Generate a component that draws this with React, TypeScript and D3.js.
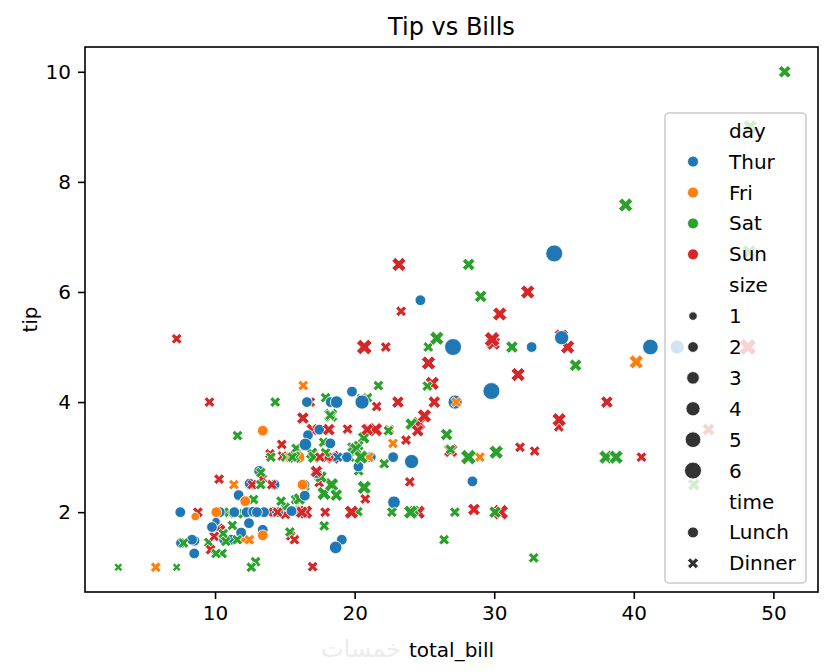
import * as d3 from 'd3';
import { useEffect, useRef } from 'react';

// seaborn "tips" rows, in plotting order
const totalBill = [
  16.99, 10.34, 21.01, 23.68, 24.59, 25.29, 8.77, 26.88, 15.04, 14.78,
  10.27, 35.26, 15.42, 18.43, 14.83, 21.58, 10.33, 16.29, 16.97, 20.65,
  17.92, 20.29, 15.77, 39.42, 19.82, 17.81, 13.37, 12.69, 21.7, 19.65,
  9.55, 18.35, 15.06, 20.69, 17.78, 24.06, 16.31, 16.93, 18.69, 31.27,
  16.04, 17.46, 13.94, 9.68, 30.4, 18.29, 22.23, 32.4, 28.55, 18.04,
  12.54, 10.29, 34.81, 9.94, 25.56, 19.49, 38.01, 26.41, 11.24, 48.27,
  20.29, 13.81, 11.02, 18.29, 17.59, 20.08, 16.45, 3.07, 20.23, 15.01,
  12.02, 17.07, 26.86, 25.28, 14.73, 10.51, 17.92, 27.2, 22.76, 17.29,
  19.44, 16.66, 10.07, 32.68, 15.98, 34.83, 13.03, 18.28, 24.71, 21.16,
  28.97, 22.49, 5.75, 16.32, 22.75, 40.17, 27.28, 12.03, 21.01, 12.46,
  11.35, 15.38, 44.3, 22.42, 20.92, 15.36, 20.49, 25.21, 18.24, 14.31,
  14.0, 7.25, 38.07, 23.95, 25.71, 17.31, 29.93, 10.65, 12.43, 24.08,
  11.69, 13.42, 14.26, 15.95, 12.48, 29.8, 8.52, 14.52, 11.38, 22.82,
  19.08, 20.27, 11.17, 12.26, 18.26, 8.51, 10.33, 14.15, 16.0, 13.16,
  17.47, 34.3, 41.19, 27.05, 16.43, 8.35, 18.64, 11.87, 9.78, 7.51,
  14.07, 13.13, 17.26, 24.55, 19.77, 29.85, 48.17, 25.0, 13.39, 16.49,
  21.5, 12.66, 16.21, 13.81, 17.51, 24.52, 20.76, 31.71, 10.59, 10.63,
  50.81, 15.81, 7.25, 31.85, 16.82, 32.9, 17.89, 14.48, 9.6, 34.63,
  34.65, 23.33, 45.35, 23.17, 40.55, 20.69, 20.9, 30.46, 18.15, 23.1,
  15.69, 19.81, 28.44, 15.48, 16.58, 7.56, 10.34, 43.11, 13.0, 13.51,
  18.71, 12.74, 13.0, 16.4, 20.53, 16.47, 26.59, 38.73, 24.27, 12.76,
  30.06, 25.89, 48.33, 13.27, 28.17, 12.9, 28.15, 11.59, 7.74, 30.14,
  12.16, 13.42, 8.58, 15.98, 13.42, 16.27, 10.09, 20.45, 13.28, 22.12,
  24.01, 15.69, 11.61, 10.77, 15.53, 10.07, 12.6, 32.83, 35.83, 29.03,
  27.18, 22.67, 17.82, 18.78,
];

const tip = [
  1.01, 1.66, 3.5, 3.31, 3.61, 4.71, 2.0, 3.12, 1.96, 3.23,
  1.71, 5.0, 1.57, 3.0, 3.02, 3.92, 1.67, 3.71, 3.5, 3.35,
  4.08, 2.75, 2.23, 7.58, 3.18, 2.34, 2.0, 2.0, 4.3, 3.0,
  1.45, 2.5, 3.0, 2.45, 3.27, 3.6, 2.0, 3.07, 2.31, 5.0,
  2.24, 2.54, 3.06, 1.32, 5.6, 3.0, 5.0, 6.0, 2.05, 3.0,
  2.5, 2.6, 5.2, 1.56, 4.34, 3.51, 3.0, 1.5, 1.76, 6.73,
  3.21, 2.0, 1.98, 3.76, 2.64, 3.15, 2.47, 1.0, 2.01, 2.09,
  1.97, 3.0, 3.14, 5.0, 2.2, 1.25, 3.08, 4.0, 3.0, 2.71,
  3.0, 3.4, 1.83, 5.0, 2.03, 5.17, 2.0, 4.0, 5.85, 3.0,
  3.0, 3.5, 1.0, 4.3, 3.25, 4.73, 4.0, 1.5, 3.0, 1.5,
  2.5, 3.0, 2.5, 3.48, 4.08, 1.64, 4.06, 4.29, 3.76, 4.0,
  3.0, 1.0, 4.0, 2.55, 4.0, 3.5, 5.07, 1.5, 1.8, 2.92,
  2.31, 1.68, 2.5, 2.0, 2.52, 4.2, 1.48, 2.0, 2.0, 2.18,
  1.5, 2.83, 1.5, 2.0, 3.25, 1.25, 2.0, 2.0, 2.0, 2.75,
  3.5, 6.7, 5.0, 5.0, 2.3, 1.5, 1.36, 1.63, 1.73, 2.0,
  2.5, 2.0, 2.74, 2.0, 2.0, 5.14, 5.0, 3.75, 2.61, 2.0,
  3.5, 2.5, 2.0, 2.0, 3.0, 3.48, 2.24, 4.5, 1.61, 2.0,
  10.0, 3.16, 5.15, 3.18, 4.0, 3.11, 2.0, 2.0, 4.0, 3.55,
  3.68, 5.65, 3.5, 6.5, 3.0, 5.0, 3.5, 2.0, 3.5, 4.0,
  1.5, 4.19, 2.56, 2.02, 4.0, 1.44, 2.0, 5.0, 2.0, 2.0,
  4.0, 2.01, 2.0, 2.5, 4.0, 3.23, 3.41, 3.0, 2.03, 2.23,
  2.0, 5.16, 9.0, 2.5, 6.5, 1.1, 3.0, 1.5, 1.44, 3.09,
  2.2, 3.48, 1.92, 3.0, 1.58, 2.5, 2.0, 3.0, 2.72, 2.88,
  2.0, 3.0, 3.39, 1.47, 3.0, 1.25, 1.0, 1.17, 4.67, 5.92,
  2.0, 2.0, 1.75, 3.0,
];

const day = [
  'Sun', 'Sun', 'Sun', 'Sun', 'Sun', 'Sun', 'Sun', 'Sun', 'Sun', 'Sun',
  'Sun', 'Sun', 'Sun', 'Sun', 'Sun', 'Sun', 'Sun', 'Sun', 'Sun', 'Sat',
  'Sat', 'Sat', 'Sat', 'Sat', 'Sat', 'Sat', 'Sat', 'Sat', 'Sat', 'Sat',
  'Sat', 'Sat', 'Sat', 'Sat', 'Sat', 'Sat', 'Sat', 'Sat', 'Sat', 'Sat',
  'Sat', 'Sun', 'Sun', 'Sun', 'Sun', 'Sun', 'Sun', 'Sun', 'Sun', 'Sun',
  'Sun', 'Sun', 'Sun', 'Sun', 'Sun', 'Sun', 'Sat', 'Sat', 'Sat', 'Sat',
  'Sat', 'Sat', 'Sat', 'Sat', 'Sat', 'Sat', 'Sat', 'Sat', 'Sat', 'Sat',
  'Sat', 'Sat', 'Sat', 'Sat', 'Sat', 'Sat', 'Sat', 'Thur', 'Thur', 'Thur',
  'Thur', 'Thur', 'Thur', 'Thur', 'Thur', 'Thur', 'Thur', 'Thur', 'Thur', 'Thur',
  'Fri', 'Fri', 'Fri', 'Fri', 'Fri', 'Fri', 'Fri', 'Fri', 'Fri', 'Fri',
  'Fri', 'Fri', 'Sat', 'Sat', 'Sat', 'Sat', 'Sat', 'Sat', 'Sat', 'Sat',
  'Sat', 'Sat', 'Sun', 'Sun', 'Sun', 'Sun', 'Sun', 'Thur', 'Thur', 'Thur',
  'Thur', 'Thur', 'Thur', 'Thur', 'Thur', 'Thur', 'Thur', 'Thur', 'Thur', 'Thur',
  'Thur', 'Thur', 'Thur', 'Thur', 'Thur', 'Thur', 'Thur', 'Thur', 'Thur', 'Thur',
  'Thur', 'Thur', 'Thur', 'Thur', 'Thur', 'Thur', 'Thur', 'Thur', 'Thur', 'Thur',
  'Sun', 'Sun', 'Sun', 'Sun', 'Sun', 'Sun', 'Sun', 'Sun', 'Sun', 'Sun',
  'Sun', 'Sun', 'Sun', 'Sun', 'Sun', 'Sun', 'Sun', 'Sun', 'Sat', 'Sat',
  'Sat', 'Sat', 'Sun', 'Sun', 'Sun', 'Sun', 'Sun', 'Sun', 'Sun', 'Sun',
  'Sun', 'Sun', 'Sun', 'Sun', 'Sun', 'Sun', 'Sun', 'Sun', 'Sun', 'Sun',
  'Sun', 'Thur', 'Thur', 'Thur', 'Thur', 'Thur', 'Thur', 'Thur', 'Thur', 'Thur',
  'Thur', 'Thur', 'Thur', 'Thur', 'Thur', 'Thur', 'Sat', 'Sat', 'Sat', 'Sat',
  'Sat', 'Sat', 'Sat', 'Sat', 'Sat', 'Sat', 'Sat', 'Sat', 'Sat', 'Sat',
  'Fri', 'Fri', 'Fri', 'Fri', 'Fri', 'Fri', 'Fri', 'Sat', 'Sat', 'Sat',
  'Sat', 'Sat', 'Sat', 'Sat', 'Sat', 'Sat', 'Sat', 'Sat', 'Sat', 'Sat',
  'Sat', 'Sat', 'Sat', 'Thur',
];

const time = [
  'Dinner', 'Dinner', 'Dinner', 'Dinner', 'Dinner', 'Dinner', 'Dinner', 'Dinner', 'Dinner', 'Dinner',
  'Dinner', 'Dinner', 'Dinner', 'Dinner', 'Dinner', 'Dinner', 'Dinner', 'Dinner', 'Dinner', 'Dinner',
  'Dinner', 'Dinner', 'Dinner', 'Dinner', 'Dinner', 'Dinner', 'Dinner', 'Dinner', 'Dinner', 'Dinner',
  'Dinner', 'Dinner', 'Dinner', 'Dinner', 'Dinner', 'Dinner', 'Dinner', 'Dinner', 'Dinner', 'Dinner',
  'Dinner', 'Dinner', 'Dinner', 'Dinner', 'Dinner', 'Dinner', 'Dinner', 'Dinner', 'Dinner', 'Dinner',
  'Dinner', 'Dinner', 'Dinner', 'Dinner', 'Dinner', 'Dinner', 'Dinner', 'Dinner', 'Dinner', 'Dinner',
  'Dinner', 'Dinner', 'Dinner', 'Dinner', 'Dinner', 'Dinner', 'Dinner', 'Dinner', 'Dinner', 'Dinner',
  'Dinner', 'Dinner', 'Dinner', 'Dinner', 'Dinner', 'Dinner', 'Dinner', 'Lunch', 'Lunch', 'Lunch',
  'Lunch', 'Lunch', 'Lunch', 'Lunch', 'Lunch', 'Lunch', 'Lunch', 'Lunch', 'Lunch', 'Lunch',
  'Dinner', 'Dinner', 'Dinner', 'Dinner', 'Dinner', 'Dinner', 'Dinner', 'Dinner', 'Dinner', 'Dinner',
  'Dinner', 'Dinner', 'Dinner', 'Dinner', 'Dinner', 'Dinner', 'Dinner', 'Dinner', 'Dinner', 'Dinner',
  'Dinner', 'Dinner', 'Dinner', 'Dinner', 'Dinner', 'Dinner', 'Dinner', 'Lunch', 'Lunch', 'Lunch',
  'Lunch', 'Lunch', 'Lunch', 'Lunch', 'Lunch', 'Lunch', 'Lunch', 'Lunch', 'Lunch', 'Lunch',
  'Lunch', 'Lunch', 'Lunch', 'Lunch', 'Lunch', 'Lunch', 'Lunch', 'Lunch', 'Lunch', 'Lunch',
  'Lunch', 'Lunch', 'Lunch', 'Lunch', 'Lunch', 'Lunch', 'Lunch', 'Lunch', 'Lunch', 'Lunch',
  'Dinner', 'Dinner', 'Dinner', 'Dinner', 'Dinner', 'Dinner', 'Dinner', 'Dinner', 'Dinner', 'Dinner',
  'Dinner', 'Dinner', 'Dinner', 'Dinner', 'Dinner', 'Dinner', 'Dinner', 'Dinner', 'Dinner', 'Dinner',
  'Dinner', 'Dinner', 'Dinner', 'Dinner', 'Dinner', 'Dinner', 'Dinner', 'Dinner', 'Dinner', 'Dinner',
  'Dinner', 'Dinner', 'Dinner', 'Dinner', 'Dinner', 'Dinner', 'Dinner', 'Dinner', 'Dinner', 'Dinner',
  'Dinner', 'Lunch', 'Lunch', 'Lunch', 'Lunch', 'Lunch', 'Lunch', 'Lunch', 'Lunch', 'Lunch',
  'Lunch', 'Lunch', 'Lunch', 'Lunch', 'Lunch', 'Lunch', 'Dinner', 'Dinner', 'Dinner', 'Dinner',
  'Dinner', 'Dinner', 'Dinner', 'Dinner', 'Dinner', 'Dinner', 'Dinner', 'Dinner', 'Dinner', 'Dinner',
  'Lunch', 'Lunch', 'Lunch', 'Lunch', 'Lunch', 'Lunch', 'Lunch', 'Dinner', 'Dinner', 'Dinner',
  'Dinner', 'Dinner', 'Dinner', 'Dinner', 'Dinner', 'Dinner', 'Dinner', 'Dinner', 'Dinner', 'Dinner',
  'Dinner', 'Dinner', 'Dinner', 'Dinner',
];

const partySize = [
  2, 3, 3, 2, 4, 4, 2, 4, 2, 2,
  2, 4, 2, 4, 2, 2, 3, 3, 3, 3,
  2, 2, 2, 4, 2, 4, 2, 2, 2, 2,
  2, 4, 2, 4, 2, 3, 3, 3, 3, 3,
  3, 2, 2, 2, 4, 2, 2, 4, 3, 2,
  2, 2, 4, 2, 4, 2, 4, 2, 2, 4,
  2, 2, 2, 4, 3, 3, 2, 1, 2, 2,
  2, 3, 2, 2, 2, 2, 2, 4, 2, 2,
  2, 2, 1, 2, 2, 4, 2, 2, 2, 2,
  2, 2, 2, 2, 2, 4, 2, 2, 2, 2,
  2, 2, 3, 2, 2, 2, 2, 2, 2, 2,
  2, 1, 3, 2, 3, 2, 4, 2, 2, 4,
  2, 2, 2, 2, 2, 6, 2, 2, 2, 3,
  2, 2, 2, 2, 2, 2, 2, 2, 2, 2,
  2, 6, 5, 6, 2, 2, 3, 2, 2, 2,
  2, 2, 3, 4, 4, 5, 6, 4, 2, 4,
  4, 2, 3, 2, 2, 3, 2, 4, 2, 2,
  3, 2, 2, 2, 2, 2, 2, 2, 2, 2,
  4, 2, 3, 4, 2, 5, 3, 5, 3, 3,
  2, 2, 2, 2, 2, 2, 2, 4, 2, 2,
  3, 2, 2, 2, 4, 3, 3, 4, 2, 2,
  3, 4, 4, 2, 3, 2, 5, 2, 2, 4,
  2, 2, 1, 3, 2, 2, 2, 4, 2, 2,
  4, 3, 2, 2, 2, 2, 2, 2, 3, 3,
  2, 2, 2, 2,
];

const dayOrder = ['Thur', 'Fri', 'Sat', 'Sun'];
const dayColors = ['#1f77b4', '#ff7f0e', '#2ca02c', '#d62728'];
const sizeLevels = [1, 2, 3, 4, 5, 6];
const timeOrder = ['Lunch', 'Dinner'];
const xTicks = [10, 20, 30, 40, 50];
const yTicks = [2, 4, 6, 8, 10];

const W = 830;
const H = 672;
const FONT = '"DejaVu Sans", Verdana, sans-serif';
const PT = 2; // px per point

// seaborn default size range: 18..72 pt^2 of area
const areaScale = d3.scaleLinear().domain([1, 6]).range([18, 72]);
const diamPx = (s: number) => Math.sqrt(areaScale(s)) * PT;

// matplotlib filled "X" marker, unit box scaled to diameter d
const xVerts = [
  [-1, -2], [0, -1], [1, -2], [2, -1], [1, 0], [2, 1],
  [1, 2], [0, 1], [-1, 2], [-2, 1], [-1, 0], [-2, -1],
];
const markerPath = (kind: string, d: number) => {
  if (kind === 'Lunch') {
    return d3.symbol(d3.symbolCircle, (Math.PI * d * d) / 4)() || '';
  }
  const k = d / 4;
  return 'M' + xVerts.map(([a, b]) => `${a * k},${b * k}`).join('L') + 'Z';
};

const App = () => {
  const svgRef = useRef<SVGSVGElement>(null);

  useEffect(() => {
    if (!svgRef.current) return;
    const svg = d3.select(svgRef.current);
    svg.selectAll('*').remove();

    const left = 85;
    const right = 818;
    const top = 47;
    const bottom = 592;

    const [x0, x1] = d3.extent(totalBill) as [number, number];
    const [y0, y1] = d3.extent(tip) as [number, number];
    const xPad = (x1 - x0) * 0.05;
    const yPad = (y1 - y0) * 0.05;
    const x = d3.scaleLinear().domain([x0 - xPad, x1 + xPad]).range([left, right]);
    const y = d3.scaleLinear().domain([y0 - yPad, y1 + yPad]).range([bottom, top]);
    const color = d3.scaleOrdinal<string, string>().domain(dayOrder).range(dayColors);

    svg.append('rect').attr('width', W).attr('height', H).attr('fill', '#fff');

    // points, in data order
    const pts = svg.append('g');
    totalBill.forEach((b, i) => {
      pts
        .append('path')
        .attr('transform', `translate(${x(b)},${y(tip[i])})`)
        .attr('d', markerPath(time[i], diamPx(partySize[i])))
        .attr('fill', color(day[i]))
        .attr('stroke', '#fff')
        .attr('stroke-width', 0.86);
    });

    // spines
    svg
      .append('rect')
      .attr('x', left)
      .attr('y', top)
      .attr('width', right - left)
      .attr('height', bottom - top)
      .attr('fill', 'none')
      .attr('stroke', '#000')
      .attr('stroke-width', 1.6);

    // x axis
    const xa = svg
      .append('g')
      .attr('transform', `translate(0,${bottom})`)
      .call(d3.axisBottom(x).tickValues(xTicks).tickSize(7).tickPadding(7).tickFormat(d3.format('d')));
    xa.select('.domain').remove();
    xa.selectAll('.tick line').attr('stroke', '#000').attr('stroke-width', 1.6);
    xa.selectAll('.tick text')
      .attr('fill', '#000')
      .attr('font-size', 20)
      .attr('font-family', FONT)
      .attr('dy', '0.71em');

    // y axis
    const ya = svg
      .append('g')
      .attr('transform', `translate(${left},0)`)
      .call(d3.axisLeft(y).tickValues(yTicks).tickSize(7).tickPadding(7).tickFormat(d3.format('d')));
    ya.select('.domain').remove();
    ya.selectAll('.tick line').attr('stroke', '#000').attr('stroke-width', 1.6);
    ya.selectAll('.tick text')
      .attr('fill', '#000')
      .attr('font-size', 20)
      .attr('font-family', FONT);

    // faint watermark left of the x label
    svg
      .append('text')
      .attr('x', 401)
      .attr('y', 657)
      .attr('text-anchor', 'end')
      .attr('font-size', 24)
      .attr('font-family', FONT)
      .attr('fill', '#ececec')
      .text('خمسات');

    // labels
    svg
      .append('text')
      .attr('x', (left + right) / 2)
      .attr('y', 657)
      .attr('text-anchor', 'middle')
      .attr('font-size', 20)
      .attr('font-family', FONT)
      .text('total_bill');

    svg
      .append('text')
      .attr('transform', `translate(37,${(top + bottom) / 2}) rotate(-90)`)
      .attr('text-anchor', 'middle')
      .attr('font-size', 20)
      .attr('font-family', FONT)
      .text('tip');

    svg
      .append('text')
      .attr('x', (left + right) / 2)
      .attr('y', 35)
      .attr('text-anchor', 'middle')
      .attr('font-size', 24)
      .attr('font-family', FONT)
      .text('Tip vs Bills');

    // legend
    type Row = { label: string; kind?: string; color?: string; d?: number };
    const rows: Row[] = [
      { label: 'day' },
      ...dayOrder.map((dname) => ({ label: dname, kind: 'Lunch', color: color(dname), d: 11 })),
      { label: 'size' },
      ...sizeLevels.map((s) => ({ label: String(s), kind: 'Lunch', color: '#333', d: diamPx(s) })),
      { label: 'time' },
      ...timeOrder.map((t) => ({ label: t, kind: t, color: '#333', d: 11 })),
    ];

    const lg = svg.append('g');
    lg.append('rect')
      .attr('x', 665)
      .attr('y', 113)
      .attr('width', 141)
      .attr('height', 470)
      .attr('rx', 4)
      .attr('fill', '#fff')
      .attr('fill-opacity', 0.8)
      .attr('stroke', '#cccccc')
      .attr('stroke-width', 1.6);

    rows.forEach((r, i) => {
      const ry = 130.7 + i * 30.9;
      if (r.kind) {
        lg.append('path')
          .attr('transform', `translate(693,${ry})`)
          .attr('d', markerPath(r.kind, r.d || 11))
          .attr('fill', r.color || '#333')
          .attr('stroke', '#fff')
          .attr('stroke-width', 0.86);
      }
      lg.append('text')
        .attr('x', 729)
        .attr('y', ry + 7)
        .attr('font-size', 20)
        .attr('font-family', FONT)
        .attr('fill', '#000')
        .text(r.label);
    });
  }, []);

  return (
    <svg
      ref={svgRef}
      width={W}
      height={H}
      style={{ position: 'absolute', left: 0, top: 0 }}
    />
  );
};

export default App;
